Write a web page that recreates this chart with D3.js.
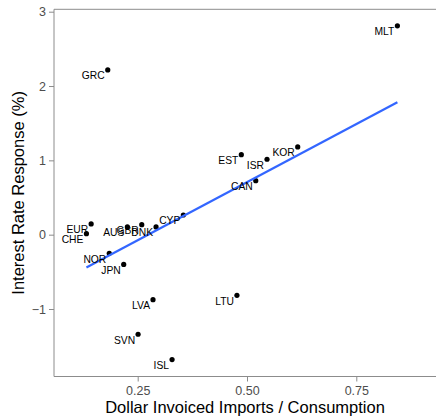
<!DOCTYPE html>
<html>
<head>
<meta charset="utf-8">
<script src="https://cdn.jsdelivr.net/npm/d3@7"></script>
<style>
  body { margin: 0; background: #fff; }
  svg { display: block; font-family: "Liberation Sans", Arial, sans-serif; }
</style>
</head>
<body>
<div id="chart"></div>
<script>
// values
var countries   = ["MLT", "GRC", "EUR", "CHE", "AUS", "GBR", "DNK", "CYP", "NOR", "JPN", "LVA", "LTU", "SVN", "ISL", "EST", "ISR", "KOR", "CAN"];
var dollarShare = [0.844, 0.1815, 0.1435, 0.1327, 0.2264, 0.2593, 0.292, 0.3544, 0.185, 0.218, 0.285, 0.477, 0.2509, 0.3286, 0.487, 0.5458, 0.616, 0.520];
var rateResp    = [2.81, 2.217, 0.144, 0.013, 0.104, 0.135, 0.104, 0.265, -0.25, -0.40, -0.875, -0.816, -1.34, -1.68, 1.077, 1.015, 1.18, 0.727];
var xTicks = [0.25, 0.50, 0.75];
var yTicks = [-1, 0, 1, 2, 3];

(function() {
  var width = 436, height = 417;
  var panel = {left: 54, right: 436, top: 9.3, bottom: 376.5};
  var axisCol = "#8c8c8c", tickTextCol = "#4d4d4d";

  var svg = d3.select("#chart").append("svg")
              .attr("width", width)
              .attr("height", height);

  var x = d3.scaleLinear().domain([0.25, 0.75]).range([137.7, 356.3]);
  var y = d3.scaleLinear().domain([-1, 3]).range([309, 11.7]);

  var data = countries.map(function(c, i) {
    return {name: c, x: dollarShare[i], y: rateResp[i]};
  });

  // panel lines (right edge is cut off in the picture)
  svg.append("line")
     .attr("x1", panel.left).attr("x2", panel.right)
     .attr("y1", panel.top).attr("y2", panel.top)
     .attr("stroke", axisCol).attr("stroke-width", 1);
  svg.append("line")
     .attr("x1", panel.left).attr("x2", panel.right)
     .attr("y1", panel.bottom).attr("y2", panel.bottom)
     .attr("stroke", axisCol).attr("stroke-width", 1);
  svg.append("line")
     .attr("x1", panel.left).attr("x2", panel.left)
     .attr("y1", panel.top).attr("y2", panel.bottom)
     .attr("stroke", axisCol).attr("stroke-width", 1);

  // x axis
  var xAxis = d3.axisBottom(x).tickValues(xTicks).tickSize(5).tickPadding(5)
                .tickFormat(d3.format(".2f"));
  var gx = svg.append("g").attr("transform", "translate(0," + panel.bottom + ")").call(xAxis);
  gx.select(".domain").remove();
  gx.selectAll(".tick line").attr("stroke", axisCol);
  gx.selectAll(".tick text").attr("fill", tickTextCol).style("font-size", "12.5px")
    .style("font-family", "Liberation Sans, Arial, sans-serif");

  // y axis
  var yAxis = d3.axisLeft(y).tickValues(yTicks).tickSize(5).tickPadding(3)
                .tickFormat(function(d) { return d < 0 ? "\u2212" + Math.abs(d) : d; });
  var gy = svg.append("g").attr("transform", "translate(" + panel.left + ",0)").call(yAxis);
  gy.select(".domain").remove();
  gy.selectAll(".tick line").attr("stroke", axisCol);
  gy.selectAll(".tick text").attr("fill", tickTextCol).style("font-size", "12.5px")
    .style("font-family", "Liberation Sans, Arial, sans-serif");

  // axis titles
  svg.append("text")
     .attr("x", (panel.left + 436 + 2 * 17) / 2 - 17)
     .attr("y", 413)
     .attr("text-anchor", "middle")
     .style("font-size", "16.5px")
     .attr("fill", "#000")
     .text("Dollar Invoiced Imports / Consumption");
  svg.append("text")
     .attr("transform", "translate(23.5," + (panel.top + panel.bottom) / 2 + ") rotate(-90)")
     .attr("text-anchor", "middle")
     .style("font-size", "16.5px")
     .attr("fill", "#000")
     .text("Interest Rate Response (%)");

  // least squares fit, like geom_smooth(method = "lm")
  var mx = d3.mean(data, function(d) { return d.x; });
  var my = d3.mean(data, function(d) { return d.y; });
  var sxy = d3.sum(data, function(d) { return (d.x - mx) * (d.y - my); });
  var sxx = d3.sum(data, function(d) { return (d.x - mx) * (d.x - mx); });
  var slope = sxy / sxx, icpt = my - slope * mx;
  var ext = d3.extent(data, function(d) { return d.x; });
  var fit = ext.map(function(v) { return {x: v, y: icpt + slope * v}; });

  // points
  svg.selectAll(".pt")
     .data(data)
     .enter().append("circle")
     .attr("class", "pt")
     .attr("cx", function(d) { return x(d.x); })
     .attr("cy", function(d) { return y(d.y); })
     .attr("r", 2.6)
     .attr("fill", "#000");

  svg.append("path")
     .datum(fit)
     .attr("d", d3.line().x(function(d) { return x(d.x); }).y(function(d) { return y(d.y); }))
     .attr("fill", "none")
     .attr("stroke", "#3366ff")
     .attr("stroke-width", 2.2);

  // labels sit below-left of each point
  svg.selectAll(".lab")
     .data(data)
     .enter().append("text")
     .attr("class", "lab")
     .attr("x", function(d) { return x(d.x) - 3; })
     .attr("y", function(d) { return y(d.y) + 9.5; })
     .attr("text-anchor", "end")
     .style("font-size", "10.3px")
     .attr("fill", "#000")
     .text(function(d) { return d.name; });
})();
</script>
</body>
</html>
